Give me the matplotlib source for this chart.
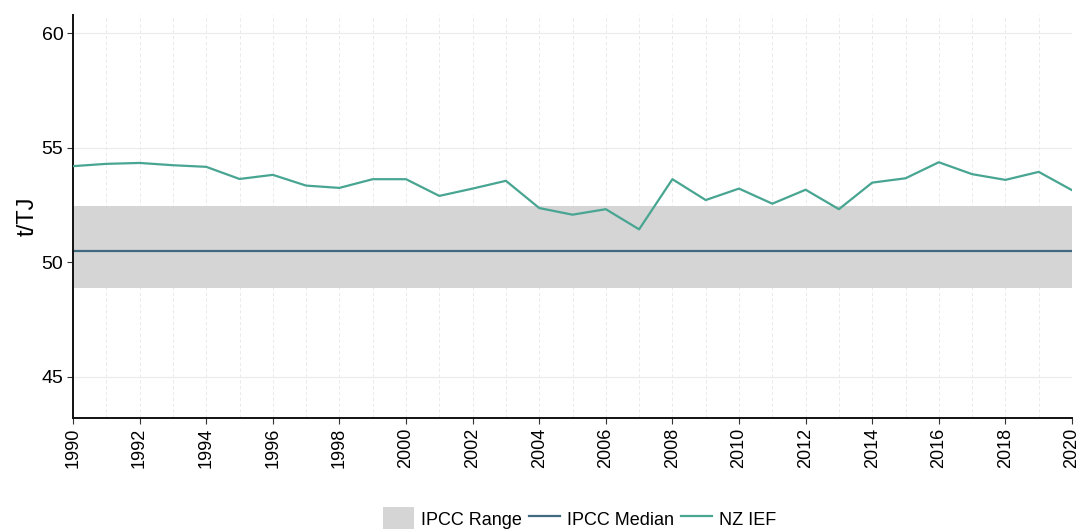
import numpy as np
import matplotlib.pyplot as plt
from matplotlib.patches import Patch
from matplotlib.lines import Line2D

plt.rcParams['font.family'] = ['Liberation Sans', 'DejaVu Sans']

years = list(range(1990, 2021))
nz_ief = [54.20, 54.30, 54.34, 54.24, 54.17, 53.64, 53.82, 53.35, 53.25, 53.63,
          53.63, 52.90, 53.22, 53.56, 52.37, 52.08, 52.32, 51.44, 53.63, 52.72,
          53.22, 52.56, 53.17, 52.32, 53.48, 53.67, 54.37, 53.85, 53.60, 53.95,
          53.15]
ipcc_low = 48.88
ipcc_high = 52.46
ipcc_median = 50.49

line_col = '#48a592'
median_col = '#3f6a7e'
band_col = '#d5d5d5'

fig = plt.figure(figsize=(10.8, 5.29), dpi=100)
ax = fig.add_axes([0.0676, 0.2098, 0.925, 0.7618])

ax.fill_between(years, ipcc_low, ipcc_high, color=band_col, lw=0, zorder=1)
ax.plot(years, [ipcc_median] * len(years), color=median_col, lw=1.6, zorder=2)
ax.plot(years, nz_ief, color=line_col, lw=1.6, zorder=3)

ax.set_xlim(1990, 2020)
ax.set_ylim(43.2, 60.8)
ax.set_yticks([45, 50, 55, 60])
ax.set_xticks(range(1990, 2021, 2))
ax.set_xticks(range(1990, 2021), minor=True)
ax.tick_params(axis='x', which='major', rotation=90, labelsize=13, length=4, color='#333333', pad=3)
ax.tick_params(axis='x', which='minor', length=0)
ax.tick_params(axis='y', labelsize=14, length=4, color='#333333', pad=3)

ax.grid(axis='y', which='major', color='#ebebeb', lw=0.8, zorder=0)
ax.grid(axis='x', which='both', color='#e6e6e6', lw=0.6, ls=(0, (4, 3)), zorder=0)
ax.set_axisbelow(True)

for side in ['top', 'right']:
    ax.spines[side].set_visible(False)
for side in ['left', 'bottom']:
    ax.spines[side].set_linewidth(1.4)
    ax.spines[side].set_color('#111111')

ax.set_ylabel('t/TJ', fontsize=17, labelpad=2)

handles = [Patch(facecolor=band_col, edgecolor='none'),
           Line2D([], [], color=median_col, lw=1.6),
           Line2D([], [], color=line_col, lw=1.6)]
fig.legend(handles, ['IPCC Range', 'IPCC Median', 'NZ IEF'], loc='lower center',
           ncol=3, frameon=False, fontsize=13, bbox_to_anchor=(0.537, -0.035),
           handlelength=1.7, handleheight=1.7, handletextpad=0.4, columnspacing=0.4)

fig.savefig('out.png', dpi=100)
